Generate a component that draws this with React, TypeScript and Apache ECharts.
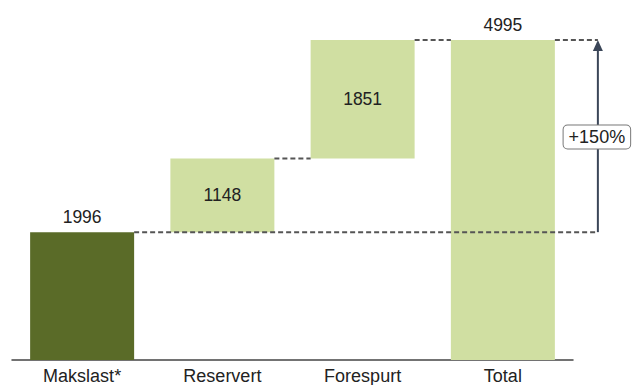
import React, { useEffect, useRef } from "react";
import * as echarts from "echarts";

const categories = ["Makslast*", "Reservert", "Forespurt", "Total"];
const baseValues = [0, 1996, 3144, 0];
const barValues = [1996, 1148, 1851, 4995];
const barColors = ["#5A6B28", "#D0DFA2", "#D0DFA2", "#D0DFA2"];
const labelInside = [false, true, true, false];
const growthLabel = "+150%";

const FONT = "'Liberation Sans', Arial, sans-serif";

export default function App() {
  const ref = useRef<HTMLDivElement>(null);
  useEffect(() => {
    if (!ref.current) return;
    const chart = echarts.init(ref.current, null, { renderer: "svg" });
    const barWidth = 104;
    chart.setOption({
      animation: false,
      grid: { left: 12, right: 59, top: 40, bottom: 24, containLabel: false },
      xAxis: {
        type: "category",
        data: categories,
        axisTick: { show: false },
        axisLine: { lineStyle: { color: "#444", width: 1.5 } },
        axisLabel: { color: "#222", fontFamily: FONT, fontSize: 18, margin: 7 },
      },
      yAxis: {
        type: "value",
        min: 0,
        max: 4995,
        show: false,
        splitLine: { show: false },
      },
      series: [
        {
          type: "bar",
          stack: "w",
          data: baseValues,
          barWidth,
          itemStyle: { color: "transparent" },
          silent: true,
        },
        {
          type: "bar",
          stack: "w",
          barWidth,
          data: barValues.map((v, i) => ({
            value: v,
            itemStyle: { color: barColors[i] },
            label: {
              show: true,
              position: labelInside[i] ? "inside" : "top",
              distance: 6,
              color: "#222",
              fontFamily: FONT,
              fontSize: 17.5,
            },
          })),
        },
      ],
    });

    const px = (i: number, v: number) => chart.convertToPixel({ gridIndex: 0 }, [i, v]) as number[];
    const half = barWidth / 2;
    const p0 = px(0, barValues[0]);
    const p1 = px(1, baseValues[1] + barValues[1]);
    const p2 = px(2, baseValues[2] + barValues[2]);
    const p3 = px(3, barValues[3]);
    const arrowX = p3[0] + half + 43;
    const dash = { stroke: "#555", lineWidth: 2, lineDash: [5, 3] };
    const yBase = p0[1];
    const yTop = p3[1];
    chart.setOption({
      graphic: [
        { type: "line", z: 10, shape: { x1: p0[0] + half, y1: yBase, x2: arrowX, y2: yBase }, style: dash },
        { type: "line", z: 10, shape: { x1: p1[0] + half, y1: p1[1], x2: p2[0] - half, y2: p1[1] }, style: dash },
        { type: "line", z: 10, shape: { x1: p2[0] + half, y1: p2[1], x2: p3[0] - half, y2: p2[1] }, style: dash },
        { type: "line", z: 10, shape: { x1: p3[0] + half, y1: yTop, x2: arrowX, y2: yTop }, style: dash },
        { type: "line", z: 10, shape: { x1: arrowX, y1: yBase, x2: arrowX, y2: yTop + 8 }, style: { stroke: "#3B4658", lineWidth: 2 } },
        {
          type: "polygon",
          z: 10,
          shape: { points: [[arrowX, yTop], [arrowX - 5, yTop + 11], [arrowX + 5, yTop + 11]] },
          style: { fill: "#3B4658" },
        },
        {
          type: "text",
          z: 11,
          x: arrowX - 1,
          y: (yBase + yTop) / 2 + 1,
          style: {
            text: growthLabel,
            fontFamily: FONT,
            fontSize: 18,
            fill: "#222",
            align: "center",
            verticalAlign: "middle",
            backgroundColor: "#fff",
            borderColor: "#777",
            borderWidth: 1,
            borderRadius: 4,
            padding: [3, 5, 2, 5],
          },
        },
      ],
    });
    return () => chart.dispose();
  }, []);
  return (
    <div
      ref={ref}
      style={{ position: "fixed", left: 0, top: 0, width: 632, height: 385, background: "#fff" }}
    />
  );
}
